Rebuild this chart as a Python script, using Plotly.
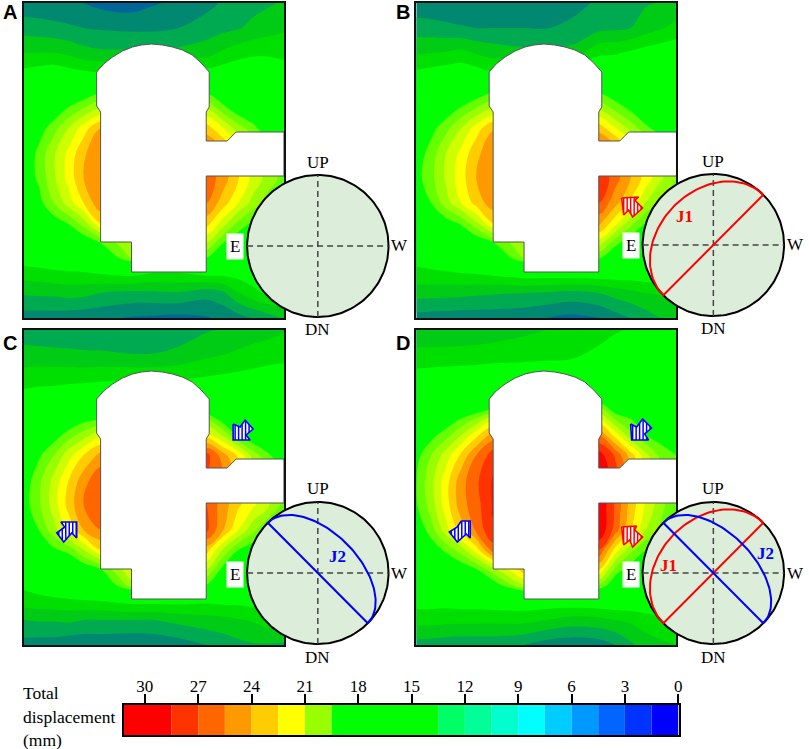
import numpy as np
import plotly.graph_objects as go

W, H = 809, 749

# grid of the displacement field, px inside a panel
grid_x = [0, 15, 30, 45, 60, 77, 108, 130, 155, 183, 200, 215, 230, 245, 261]
grid_y = [0, 25, 50, 70, 90, 105, 125, 150, 175, 200, 220, 240, 255, 270, 290, 315]

# displacement (mm-ish band index), one list per panel
disp_a = [
    [11.3, 11.3, 11.25, 11.2, 11.0, 10.7, 10.5, 10.9, 11.2, 11.7, 12.1, 12.3, 12.6, 12.85, 13.1],
    [12.55, 12.45, 12.3, 12.15, 12.0, 11.9, 11.8, 11.8, 12.0, 12.45, 12.7, 12.9, 13.3, 13.6, 13.85],
    [14.0, 14.0, 14.0, 13.8, 13.4, 13.2, 13.2, 13.2, 13.3, 13.6, 14.2, 14.6, 14.8, 14.8, 14.65],
    [15.3, 15.5, 15.7, 15.4, 15.2, 15.1, 16.0, 16.0, 16.0, 15.4, 15.6, 15.8, 15.9, 15.9, 15.7],
    [16.5, 16.8, 17.2, 17.6, 18.2, 19.0, 19.0, 19.0, 19.0, 19.0, 18.0, 17.5, 17.0, 16.8, 16.6],
    [17.0, 17.4, 18.0, 19.1, 20.0, 21.0, 21.0, 21.0, 21.0, 21.0, 19.3, 18.2, 17.5, 17.0, 16.8],
    [17.5, 18.4, 19.6, 21.0, 22.5, 24.0, 24.0, 24.0, 24.0, 23.5, 22.0, 20.5, 19.4, 18.0, 17.5],
    [18.0, 19.3, 20.8, 22.3, 23.8, 25.0, 25.0, 25.0, 25.0, 25.5, 24.5, 23.0, 21.5, 20.0, 19.0],
    [18.3, 19.2, 20.8, 22.4, 24.0, 25.0, 25.0, 25.0, 25.0, 25.7, 24.5, 23.1, 21.7, 20.6, 19.6],
    [17.5, 18.6, 20.0, 21.5, 23.0, 24.8, 25.0, 25.0, 25.0, 25.0, 23.5, 22.0, 20.6, 19.5, 18.5],
    [16.5, 17.5, 18.4, 19.1, 20.5, 23.0, 23.0, 23.0, 23.0, 23.5, 21.5, 19.8, 18.8, 18.0, 17.5],
    [16.0, 16.3, 16.8, 17.4, 18.0, 19.0, 21.0, 21.0, 21.0, 21.0, 19.0, 18.0, 17.5, 17.0, 16.8],
    [15.6, 15.7, 15.8, 16.0, 16.4, 17.5, 20.0, 20.0, 20.0, 19.0, 17.5, 16.5, 16.5, 16.5, 16.5],
    [14.5, 14.6, 14.8, 14.85, 14.9, 15.1, 15.4, 15.0, 15.0, 15.4, 15.4, 15.5, 15.6, 15.8, 15.8],
    [13.15, 13.2, 13.25, 13.4, 13.3, 13.0, 12.75, 12.8, 12.9, 12.4, 12.8, 13.9, 14.7, 15.2, 15.2],
    [11.5, 11.5, 11.5, 11.4, 11.3, 11.2, 10.9, 10.8, 10.7, 10.9, 11.2, 11.6, 12.05, 12.5, 13.1],
]
disp_b = [
    [11.3, 11.25, 11.2, 11.15, 11.1, 11.05, 11.0, 11.05, 11.5, 12.2, 12.45, 12.7, 12.9, 13.05, 13.4],
    [12.5, 12.4, 12.25, 12.1, 12.0, 12.0, 12.0, 11.95, 12.3, 12.7, 12.8, 13.0, 13.5, 13.9, 14.3],
    [13.9, 14.0, 14.1, 14.3, 13.9, 13.6, 13.3, 13.3, 13.3, 14.8, 14.9, 15.2, 15.5, 15.7, 15.9],
    [15.2, 15.4, 15.6, 15.7, 15.5, 15.1, 16.0, 16.0, 16.0, 16.0, 16.0, 16.1, 16.2, 16.3, 16.3],
    [16.5, 16.8, 17.2, 17.8, 18.3, 19.1, 19.0, 19.0, 19.0, 19.0, 18.2, 17.6, 17.1, 16.8, 16.6],
    [17.0, 17.5, 18.2, 19.1, 20.0, 21.0, 21.0, 21.0, 21.0, 20.8, 19.6, 18.7, 17.7, 17.2, 16.9],
    [17.6, 18.6, 19.7, 21.0, 22.5, 23.9, 24.0, 24.0, 24.0, 23.6, 22.0, 20.6, 19.3, 18.3, 17.6],
    [18.3, 19.5, 21.0, 22.3, 23.7, 24.8, 25.0, 25.0, 25.0, 26.0, 25.0, 23.6, 22.3, 21.0, 20.0],
    [18.6, 19.7, 21.2, 22.6, 24.0, 24.8, 25.0, 25.0, 25.0, 27.0, 25.4, 24.0, 22.6, 21.2, 20.0],
    [17.8, 19.0, 20.6, 22.0, 23.4, 24.6, 25.0, 25.0, 25.0, 26.0, 24.3, 22.8, 21.0, 19.7, 18.8],
    [16.8, 17.6, 18.5, 19.2, 20.8, 23.0, 23.0, 23.0, 23.0, 24.3, 22.3, 20.4, 19.0, 18.2, 17.5],
    [16.0, 16.3, 16.8, 17.4, 18.0, 18.9, 21.0, 21.0, 21.0, 21.5, 19.3, 18.2, 17.5, 17.0, 16.8],
    [15.4, 15.6, 15.8, 16.0, 16.4, 17.5, 20.0, 20.0, 20.0, 19.2, 17.6, 16.8, 16.5, 16.5, 16.5],
    [14.7, 14.8, 14.9, 15.0, 15.1, 15.3, 15.7, 15.7, 15.8, 15.8, 15.8, 15.8, 15.8, 15.9, 16.0],
    [13.45, 13.4, 13.35, 13.3, 13.2, 13.1, 13.0, 12.9, 12.7, 13.0, 13.4, 13.7, 14.0, 14.1, 14.3],
    [11.6, 11.5, 11.5, 11.4, 11.4, 11.4, 11.3, 11.0, 10.7, 11.0, 11.6, 12.0, 12.5, 13.0, 13.5],
]
disp_c = [
    [12.4, 12.3, 12.2, 12.2, 12.2, 12.1, 12.1, 12.2, 12.4, 12.9, 13.1, 13.3, 13.5, 13.7, 13.9],
    [13.4, 13.4, 13.35, 13.3, 13.2, 13.2, 13.05, 13.05, 13.3, 13.8, 14.0, 14.2, 14.4, 14.5, 14.6],
    [14.6, 14.7, 14.7, 14.8, 14.8, 14.9, 15.0, 15.0, 15.0, 15.2, 15.3, 15.4, 15.5, 15.7, 15.8],
    [15.5, 15.6, 15.7, 15.8, 16.0, 16.0, 16.0, 16.0, 16.0, 16.2, 16.2, 16.2, 16.3, 16.3, 16.3],
    [16.6, 17.0, 17.4, 18.0, 18.7, 19.1, 19.5, 19.5, 19.5, 20.2, 18.5, 17.8, 17.2, 16.8, 16.5],
    [17.0, 17.6, 18.4, 19.5, 20.5, 21.8, 22.0, 22.0, 22.0, 22.5, 20.8, 18.8, 17.9, 17.2, 16.8],
    [17.6, 18.8, 20.0, 21.6, 23.0, 24.3, 24.5, 24.5, 25.0, 26.4, 24.4, 22.8, 20.5, 19.2, 17.8],
    [18.3, 19.7, 21.3, 23.0, 24.6, 25.8, 26.0, 26.0, 26.0, 26.0, 25.0, 23.8, 22.4, 21.0, 20.0],
    [18.5, 19.8, 21.5, 23.4, 25.0, 26.0, 26.0, 26.0, 26.0, 26.0, 24.5, 23.2, 22.2, 21.2, 19.6],
    [17.8, 19.0, 20.6, 22.3, 24.0, 25.0, 25.0, 25.0, 25.0, 26.3, 24.0, 22.0, 20.3, 19.0, 18.3],
    [16.8, 17.8, 18.8, 19.4, 21.0, 23.0, 23.0, 23.0, 23.0, 23.5, 20.8, 19.0, 18.2, 17.6, 17.0],
    [15.8, 16.2, 16.8, 17.3, 18.0, 18.8, 22.0, 22.0, 22.0, 21.0, 18.5, 17.6, 17.0, 16.6, 16.4],
    [15.2, 15.5, 15.8, 16.1, 16.6, 17.5, 20.5, 20.5, 20.0, 19.0, 17.2, 16.4, 16.2, 16.2, 16.2],
    [14.6, 14.7, 14.8, 14.9, 15.0, 15.1, 15.5, 15.5, 15.5, 15.3, 15.4, 15.4, 15.5, 15.6, 15.6],
    [13.0, 13.1, 13.1, 13.2, 13.0, 13.0, 13.0, 13.0, 13.3, 13.6, 13.7, 13.9, 14.1, 14.5, 14.7],
    [11.6, 11.5, 11.5, 11.3, 11.2, 11.2, 11.1, 11.2, 11.5, 12.0, 12.4, 12.7, 12.9, 12.9, 12.8],
]
disp_d = [
    [13.1, 13.1, 13.2, 13.3, 13.4, 13.5, 13.8, 14.0, 14.2, 14.5, 14.9, 15.1, 15.3, 15.5, 15.6],
    [14.4, 14.4, 14.4, 14.4, 14.4, 14.5, 14.6, 14.7, 14.8, 15.3, 15.6, 15.8, 16.0, 16.0, 16.0],
    [15.5, 15.6, 15.7, 15.8, 15.9, 16.0, 16.0, 16.0, 16.0, 16.0, 16.2, 16.3, 16.4, 16.4, 16.4],
    [16.0, 16.1, 16.2, 16.3, 16.4, 16.6, 17.0, 17.0, 17.0, 18.5, 16.8, 16.8, 16.8, 16.7, 16.7],
    [17.0, 17.5, 18.2, 19.2, 20.3, 22.0, 22.0, 22.0, 22.0, 22.5, 20.0, 19.1, 18.4, 17.9, 17.6],
    [17.8, 18.6, 19.6, 21.0, 22.7, 24.5, 25.0, 25.0, 25.0, 25.0, 22.5, 20.3, 19.0, 18.4, 18.0],
    [18.6, 20.0, 21.5, 23.2, 25.0, 26.5, 27.0, 27.0, 27.0, 27.5, 25.8, 23.5, 21.3, 19.7, 19.0],
    [19.0, 20.7, 22.6, 24.6, 25.8, 27.1, 27.5, 27.5, 27.5, 28.0, 26.5, 24.3, 22.2, 20.8, 19.6],
    [18.9, 20.5, 22.6, 24.6, 25.6, 27.1, 27.5, 27.5, 27.5, 28.0, 25.8, 23.6, 21.9, 20.4, 19.0],
    [18.0, 19.6, 21.6, 23.5, 25.2, 26.9, 27.0, 27.0, 27.0, 28.0, 25.5, 23.0, 21.0, 19.8, 18.5],
    [17.0, 18.2, 19.3, 20.5, 22.5, 25.5, 25.0, 25.0, 25.0, 26.0, 22.5, 20.3, 19.0, 18.2, 17.7],
    [16.2, 16.7, 17.4, 18.0, 18.8, 20.5, 23.5, 23.5, 23.0, 23.0, 19.5, 18.4, 17.6, 17.1, 16.8],
    [15.7, 16.0, 16.3, 16.7, 17.2, 18.3, 21.0, 21.0, 21.0, 20.0, 18.0, 17.0, 16.6, 16.4, 16.3],
    [15.5, 15.5, 15.5, 15.6, 15.6, 15.7, 15.8, 15.8, 15.9, 16.0, 16.0, 16.0, 16.0, 16.0, 16.0],
    [14.4, 14.4, 14.3, 14.3, 14.3, 14.3, 14.3, 14.0, 13.6, 13.7, 14.0, 14.2, 14.5, 14.7, 14.7],
    [12.6, 12.5, 12.4, 12.3, 12.3, 12.3, 12.0, 11.5, 11.3, 11.5, 12.0, 12.8, 13.5, 13.8, 14.0],
]

# one colour per contour band, <11 up to >27
band_colors = [
    "#006699", "#008870", "#00aa50", "#00cc15", "#00e000",
    "#00ff00", "#00ff00", "#00ff00", "#00ff00",
    "#66ff00", "#99ff00", "#ccff00", "#ffff00", "#ffcc00",
    "#ff9900", "#ff6600", "#ff3300", "#ff0000",
]

# cavern outline
cavern_x = [73, 80, 89, 99, 109, 118, 128, 139, 149, 159, 169, 178, 186, 186, 183, 183, 204, 213, 261, 261,
            183, 183, 108, 108, 77, 77, 73, 73]
cavern_y = [69, 61, 54, 48, 44, 42, 41, 42, 44, 47, 52, 60, 69, 104, 109, 138, 138, 129, 129, 173,
            173, 269, 269, 239, 239, 109, 103, 69]

# legend
legend_edges = [31.2, 28.5, 27, 25.5, 24, 22.5, 21, 19.5, 13.5, 12, 10.5, 9, 7.5, 6, 4.5, 3, 1.5, 0]
legend_colors = [
    "#ff0000", "#ff3300", "#ff6600", "#ff9900", "#ffcc00", "#ffff00", "#99ff00", "#00ff00",
    "#00ff66", "#00ff99", "#00ffcc", "#00ffff", "#00ccff", "#0099ff", "#0066ff", "#0033ff", "#0000ff",
]
legend_ticks = [0, 3, 6, 9, 12, 15, 18, 21, 24, 27, 30]

# arrows, page px
red_b = ([624, 641, 637, 645, 635, 631, 626], [198, 197, 200, 208, 217, 210, 215])
blue_c_left = ([61, 77, 77, 72, 64, 57, 65], [522, 522, 538, 533, 542, 533, 527])
blue_c_right = ([234, 241, 246, 254, 247, 251, 234], [424, 427, 420, 429, 435, 440, 440])
blue_d_right = ([633, 639, 645, 654, 647, 651, 634], [424, 427, 419, 428, 434, 440, 440])
red_d = ([624, 639, 637, 645, 635, 632, 626], [527, 526, 530, 537, 547, 540, 545])
blue_d_left = ([463, 472, 472, 468, 459, 451, 459], [521, 521, 538, 534, 542, 532, 527])

# (name, left, top, field, net centre x, net centre y, arrows, joints)
J1 = dict(strike=45, dip=0.78, color="#ff0000")
J2 = dict(strike=-45, dip=0.58, color="#0000ff")
panels = [
    ("A", 24, 3, disp_a, 319, 246, [], []),
    ("B", 418, 3, disp_b, 716, 245, [(red_b, "#ff0000")], [J1]),
    ("C", 24, 330, disp_c, 319, 573, [(blue_c_left, "#0000ff"), (blue_c_right, "#0000ff")], [J2]),
    ("D", 418, 330, disp_d, 716, 573,
     [(blue_d_left, "#0000ff"), (blue_d_right, "#0000ff"), (red_d, "#ff0000")], [J1, J2]),
]
NET_R = 71
SERIF = "Liberation Serif"


def stripes(px, py):
    # vertical hatching clipped to the arrow polygon
    xs, ys = [], []
    px2, py2 = px + px[:1], py + py[:1]
    for sx in np.arange(min(px) + 2, max(px), 3.5):
        hits = []
        for i in range(len(px)):
            x0, x1, y0, y1 = px2[i], px2[i + 1], py2[i], py2[i + 1]
            if (x0 <= sx) != (x1 <= sx):
                hits.append(y0 + (sx - x0) / (x1 - x0) * (y1 - y0))
        hits.sort()
        for a, b in zip(hits[::2], hits[1::2]):
            xs += [sx, sx, None]
            ys += [a, b, None]
    return xs, ys


def joint_curve(strike, dip):
    # great circle of a joint seen on the net: half ellipse closed by its strike line
    a = np.radians(strike)
    u = np.array([np.cos(a), np.sin(a)])
    v = np.array([-np.sin(a), np.cos(a)])
    t = np.linspace(0, np.pi, 80)
    pts = np.outer(np.cos(t), u) + dip * np.outer(np.sin(t), v)
    return np.r_[pts[:, 0], pts[0, 0]], np.r_[pts[:, 1], pts[0, 1]]


def label(text, x, y, size=17, family=SERIF, color="black", **kw):
    return dict(text=text, x=x / W, y=1 - y / H, xref="paper", yref="paper", showarrow=False,
                font=dict(family=family, size=size, color=color),
                xanchor=kw.pop("xanchor", "center"), yanchor="middle", **kw)


fig = go.Figure()
layout = {}
annotations = []
blank = dict(showgrid=False, zeroline=False, showticklabels=False, ticks="")

for i, (name, left, top, field, cx, cy, arrows, joints) in enumerate(panels):
    n = "" if i == 0 else str(i + 1)
    xa, ya = "x" + n, "y" + n
    layout["xaxis" + n] = dict(blank, domain=[left / W, (left + 261) / W], range=[0, 261], anchor=ya,
                               showline=True, mirror=True, linecolor="#111111", linewidth=1.5)
    layout["yaxis" + n] = dict(blank, domain=[1 - (top + 315) / H, 1 - top / H], range=[315, 0], anchor=xa,
                               showline=True, mirror=True, linecolor="#111111", linewidth=1.5)
    fig.add_trace(go.Contour(
        x=grid_x, y=grid_y, z=field, xaxis=xa, yaxis=ya, showscale=False,
        autocontour=False, contours=dict(start=11, end=27, size=1, coloring="fill", showlines=False),
        colorscale=[[k / (len(band_colors) - 1), c] for k, c in enumerate(band_colors)],
    ))
    fig.add_trace(go.Scatter(x=cavern_x, y=cavern_y, xaxis=xa, yaxis=ya, mode="lines", fill="toself",
                             fillcolor="white", line=dict(color="#555555", width=1), hoverinfo="skip"))
    for (ax, ay), col in arrows:
        mx = [v - left for v in ax]
        my = [v - top for v in ay]
        fig.add_trace(go.Scatter(x=mx + mx[:1], y=my + my[:1], xaxis=xa, yaxis=ya, mode="lines", fill="toself",
                                 fillcolor="white", line=dict(color=col, width=1.6), hoverinfo="skip"))
        sx, sy = stripes(mx, my)
        fig.add_trace(go.Scatter(x=sx, y=sy, xaxis=xa, yaxis=ya, mode="lines",
                                 line=dict(color=col, width=1.5), hoverinfo="skip"))

    # stereonet on its own square axes
    m = str(i + 5)
    xa2, ya2 = "x" + m, "y" + m
    pad = NET_R + 3
    layout["xaxis" + m] = dict(blank, domain=[(cx - pad) / W, (cx + pad) / W], range=[-pad / NET_R, pad / NET_R],
                               anchor=ya2, showline=False)
    layout["yaxis" + m] = dict(blank, domain=[1 - (cy + pad) / H, 1 - (cy - pad) / H],
                               range=[-pad / NET_R, pad / NET_R], anchor=xa2, showline=False)
    t = np.linspace(0, 2 * np.pi, 181)
    fig.add_trace(go.Scatter(x=np.cos(t), y=np.sin(t), xaxis=xa2, yaxis=ya2, mode="lines", fill="toself",
                             fillcolor="#dcedda", line=dict(color="black", width=2), hoverinfo="skip"))
    fig.add_trace(go.Scatter(x=[-1, 1, None, 0, 0], y=[0, 0, None, -1, 1], xaxis=xa2, yaxis=ya2, mode="lines",
                             line=dict(color="#444444", width=1.5, dash="6px,4px"), hoverinfo="skip"))
    for j in joints:
        jx, jy = joint_curve(j["strike"], j["dip"])
        fig.add_trace(go.Scatter(x=jx, y=jy, xaxis=xa2, yaxis=ya2, mode="lines",
                                 line=dict(color=j["color"], width=2), hoverinfo="skip"))

    annotations += [
        label("UP", cx, cy - 84),
        label("DN", cx, cy + 84),
        label("W", cx + 82, cy),
        label("E", cx - 83, cy + 1, bgcolor="white", borderpad=3),
        label("<b>" + name + "</b>", left - 14, top + 9 + (4 if i > 1 else 0), size=20, family="Liberation Sans"),
    ]

annotations += [
    label("<b>J1</b>", 687, 217, color="#ff0000"),
    label("<b>J2</b>", 339, 556, color="#0000ff"),
    label("<b>J1</b>", 671, 565, color="#ff0000"),
    label("<b>J2</b>", 768, 553, color="#0000ff"),
    label("Total", 21, 693, size=17.5, xanchor="left"),
    label("displacement", 21, 717, size=17.5, xanchor="left"),
    label("(mm)", 21, 740, size=17.5, xanchor="left"),
]

# colour legend
fig.add_trace(go.Bar(
    x=[a - b for a, b in zip(legend_edges[:-1], legend_edges[1:])], base=legend_edges[1:],
    y=[0] * len(legend_colors), width=1, orientation="h", marker=dict(color=legend_colors, line_width=0),
    xaxis="x9", yaxis="y9", hoverinfo="skip",
))
layout["xaxis9"] = dict(domain=[124 / W, 682 / W], range=[31.2, -0.07], anchor="y9", side="top",
                        tickvals=legend_ticks, ticks="outside", ticklen=9, tickwidth=1.5, tickcolor="black",
                        ticklabelstandoff=-5,
                        tickfont=dict(family=SERIF, size=17, color="black"), showgrid=False, zeroline=False,
                        showline=True, mirror=True, linecolor="black", linewidth=1.5)
layout["yaxis9"] = dict(blank, domain=[1 - 735 / H, 1 - 705 / H], range=[-0.5, 0.5], anchor="x9",
                        showline=True, mirror=True, linecolor="black", linewidth=1.5)

fig.update_layout(width=W, height=H, margin=dict(l=0, r=0, t=0, b=0), paper_bgcolor="white",
                  plot_bgcolor="rgba(0,0,0,0)", showlegend=False, annotations=annotations, **layout)

fig.write_html("out.html", config={"displayModeBar": False}, post_script="document.body.style.margin='0';")
